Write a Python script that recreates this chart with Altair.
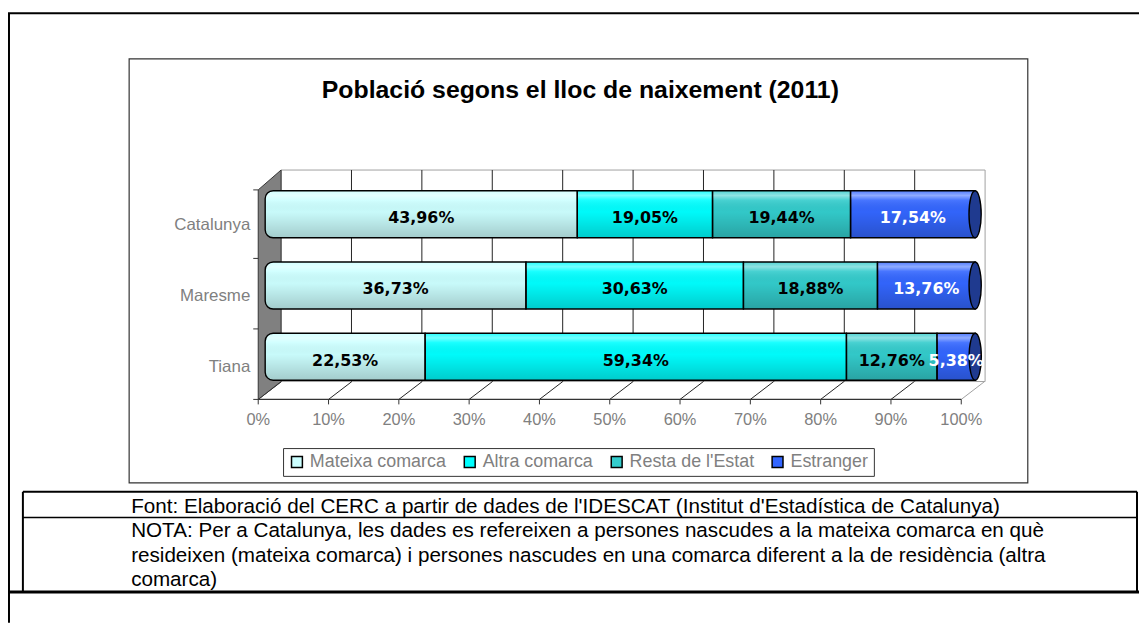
import altair as alt
import pandas as pd

# ---------------- data ----------------
categories = ["Catalunya", "Maresme", "Tiana"]
series = ["Mateixa comarca", "Altra comarca", "Resta de l'Estat", "Estranger"]
mateixa = [43.96, 36.73, 22.53]
altra = [19.05, 30.63, 59.34]
resta = [19.44, 18.88, 12.76]
estranger = [17.54, 13.76, 5.38]
series_colors = ["#ccffff", "#00ffff", "#33cccc", "#3366ff"]
tick_values = [0, 10, 20, 30, 40, 50, 60, 70, 80, 90, 100]
tick_labels = ["0%", "10%", "20%", "30%", "40%", "50%", "60%", "70%", "80%", "90%", "100%"]
title_text = "Població segons el lloc de naixement (2011)"
source_text = "Font: Elaboració del CERC a partir de dades de l'IDESCAT (Institut d'Estadística de Catalunya)"
note_lines = [
    "NOTA: Per a Catalunya, les dades es refereixen a persones nascudes a la mateixa comarca en què",
    "resideixen (mateixa comarca)  i persones nascudes en una comarca diferent a la de residència (altra",
    "comarca)",
]

rows = []
for i, cat in enumerate(categories):
    start = 0.0
    for s, vals in zip(series, [mateixa, altra, resta, estranger]):
        v = vals[i]
        rows.append(dict(cat=cat, series=s, start=start, end=start + v, mid=start + v / 2,
                         label=f"{v:.2f}".replace(".", ",") + "%"))
        start += v
df = pd.DataFrame(rows)
ticks = pd.DataFrame({"v": tick_values, "lab": tick_labels})
cats = pd.DataFrame({"cat": categories})
one = pd.DataFrame({"a": [0]})

# ---------------- scales ----------------
X_BAR = alt.Scale(domain=[0, 100], range=[259, 974])
X_FRONT = alt.Scale(domain=[0, 100], range=[252, 960])
X_BACK = alt.Scale(domain=[0, 100], range=[275, 984])
Y_BAND = alt.Scale(domain=categories, range=[169.7, 384.85], paddingInner=0.34, paddingOuter=0.17)

LABEL_FONT = "Liberation Sans"
GRAY = "#808080"

layers = []


def rule(x1, x2, y1, y2, color="black", w=1.0):
    return alt.Chart(one).mark_rule(color=color, strokeWidth=w).encode(
        x=alt.value(x1), x2=alt.value(x2), y=alt.value(y1), y2=alt.value(y2))


def text(t, x, y, size, weight="normal", align="left", color="black", font=LABEL_FONT):
    return alt.Chart(one).mark_text(text=t, font=font, fontSize=size, fontWeight=weight,
                                    align=align, baseline="alphabetic", color=color).encode(
        x=alt.value(x), y=alt.value(y))


# chart box
layers.append(alt.Chart(one).mark_rect(fill="white", stroke="#333333", strokeWidth=1.2).encode(
    x=alt.value(122), x2=alt.value(1027), y=alt.value(49), y2=alt.value(476)))
# outer frame
layers.append(rule(0, 1139, 3, 3, w=2))
layers.append(rule(1, 1, 3, 617, w=2))
# table
layers.append(rule(15, 1137, 485, 485, w=2))
layers.append(rule(15, 1137, 511, 511, w=1.5))
layers.append(rule(0, 1139, 586, 586, w=3))
layers.append(rule(15, 15, 485, 586, w=2))
layers.append(rule(1137, 1137, 485, 586, w=2))

# title and table texts
layers.append(text(title_text, 576.4, 88.7, 25, weight="bold", align="center"))
layers.append(text(source_text, 124, 506, 20.8))
for k, line in enumerate(note_lines):
    layers.append(text(line, 124, 531 + 24.5 * k, 20.8))

# back wall
layers.append(alt.Chart(one).mark_rect(fill="white", stroke="#a0a0a0", strokeWidth=1).encode(
    x=alt.value(275), x2=alt.value(984), y=alt.value(161), y2=alt.value(374)))
# back gridlines
layers.append(alt.Chart(ticks).transform_filter("datum.v > 0 && datum.v < 100").mark_rule(
    color="#222222", strokeWidth=1).encode(
    x=alt.X("v:Q", scale=X_BACK, axis=None), y=alt.value(161), y2=alt.value(374)))
# floor diagonals
layers.append(alt.Chart(ticks).transform_filter("datum.v < 100").mark_rule(
    color="#222222", strokeWidth=1, x2Offset=23.5).encode(
    x=alt.X("v:Q", scale=X_FRONT, axis=None), x2="v:Q", y=alt.value(392), y2=alt.value(374)))
layers.append(alt.Chart(ticks).transform_filter("datum.v == 100").mark_rule(
    color="#a0a0a0", strokeWidth=1, x2Offset=23.5).encode(
    x=alt.X("v:Q", scale=X_FRONT, axis=None), x2="v:Q", y=alt.value(392), y2=alt.value(374)))
# left wall
WALL = "M-0.0996,-0.827 L0.0996,-1 L0.0996,0.844 L-0.0996,1 Z"
layers.append(alt.Chart(one).mark_point(shape=WALL, size=231 ** 2, filled=True, fill="#808080",
                                        stroke="#333333", strokeWidth=1, opacity=1).encode(
    x=alt.value(263.5), y=alt.value(276.5)))
# front axis line and ticks
layers.append(rule(252, 960, 392, 392, color="#333333", w=1.2))
layers.append(alt.Chart(ticks).mark_rule(color="#333333", strokeWidth=1).encode(
    x=alt.X("v:Q", scale=X_FRONT, axis=None), y=alt.value(392), y2=alt.value(397)))
for yy in [181, 250, 321, 392]:
    layers.append(rule(247, 252, yy, yy, color="#333333", w=1))
# x labels
layers.append(alt.Chart(ticks).mark_text(font=LABEL_FONT, fontSize=16.5, color=GRAY,
                                         align="center", baseline="alphabetic").encode(
    x=alt.X("v:Q", scale=X_FRONT, axis=None), y=alt.value(418), text="lab:N"))
# y labels
layers.append(alt.Chart(cats).mark_text(font=LABEL_FONT, fontSize=17, color=GRAY,
                                        align="right", baseline="alphabetic", yOffset=15.7).encode(
    y=alt.Y("cat:N", scale=Y_BAND, axis=None), x=alt.value(244), text="cat:N"))

# bars
LEG = alt.Legend(orient="none", legendX=277, legendY=441, direction="horizontal", title=None,
                 symbolType="square", symbolSize=120, symbolStrokeColor="black",
                 symbolStrokeWidth=1.5, labelFont=LABEL_FONT, labelFontSize=18,
                 labelColor=GRAY, labelOffset=4, columnPadding=14, strokeColor="#333333",
                 padding=5, fillColor="white")
color = alt.Color("series:N", scale=alt.Scale(domain=series, range=series_colors), legend=LEG)
enc = dict(x=alt.X("start:Q", scale=X_BAR, axis=None), x2="end:Q",
           y=alt.Y("cat:N", scale=Y_BAND, axis=None))
first = alt.datum.series == "Mateixa comarca"
rest = alt.datum.series != "Mateixa comarca"

shade = alt.LinearGradient(
    gradient="linear", x1=0, x2=0, y1=0, y2=1,
    stops=[alt.GradientStop(offset=0.0, color="rgba(255,255,255,0.15)"),
           alt.GradientStop(offset=0.1, color="rgba(255,255,255,0.45)"),
           alt.GradientStop(offset=0.2, color="rgba(255,255,255,0.1)"),
           alt.GradientStop(offset=0.45, color="rgba(0,0,0,0.02)"),
           alt.GradientStop(offset=1.0, color="rgba(0,0,0,0.2)")])

layers.append(alt.Chart(df).transform_filter(first).mark_bar(
    cornerRadiusTopLeft=8, cornerRadiusBottomLeft=8).encode(color=color, **enc))
layers.append(alt.Chart(df).transform_filter(rest).mark_bar().encode(color=color, **enc))
layers.append(alt.Chart(df).transform_filter(first).mark_bar(
    cornerRadiusTopLeft=8, cornerRadiusBottomLeft=8, fill=shade, stroke="black",
    strokeWidth=1.4).encode(**enc))
layers.append(alt.Chart(df).transform_filter(rest).mark_bar(
    fill=shade, stroke="black", strokeWidth=1.4).encode(**enc))

# cylinder end cap
CAP = "M0,-1 A0.26,1 0 1,1 0,1 A0.26,1 0 1,1 0,-1 Z"
layers.append(alt.Chart(df).transform_filter(alt.datum.series == "Estranger").mark_point(
    shape=CAP, size=47.3 ** 2, filled=True, fill="#1f3a8f", stroke="black", strokeWidth=1.4,
    opacity=1).encode(x=alt.X("end:Q", scale=X_BAR, axis=None),
                      y=alt.Y("cat:N", scale=Y_BAND, axis=None)))

# value labels
layers.append(alt.Chart(df).mark_text(font="DejaVu Sans", fontWeight="bold", fontSize=16,
                                      align="center", baseline="alphabetic", yOffset=9).encode(
    x=alt.X("mid:Q", scale=X_BAR, axis=None), y=alt.Y("cat:N", scale=Y_BAND, axis=None),
    text="label:N",
    color=alt.condition(alt.datum.series == "Estranger", alt.value("white"), alt.value("black"))))

chart = alt.layer(*layers).resolve_scale(x="independent").properties(
    width=1139, height=617, padding=0, autosize=alt.AutoSizeParams(type="none"),
    background="white",
).configure_view(stroke=None)

chart.save("out.html", embed_options={"renderer": "svg", "actions": False})
